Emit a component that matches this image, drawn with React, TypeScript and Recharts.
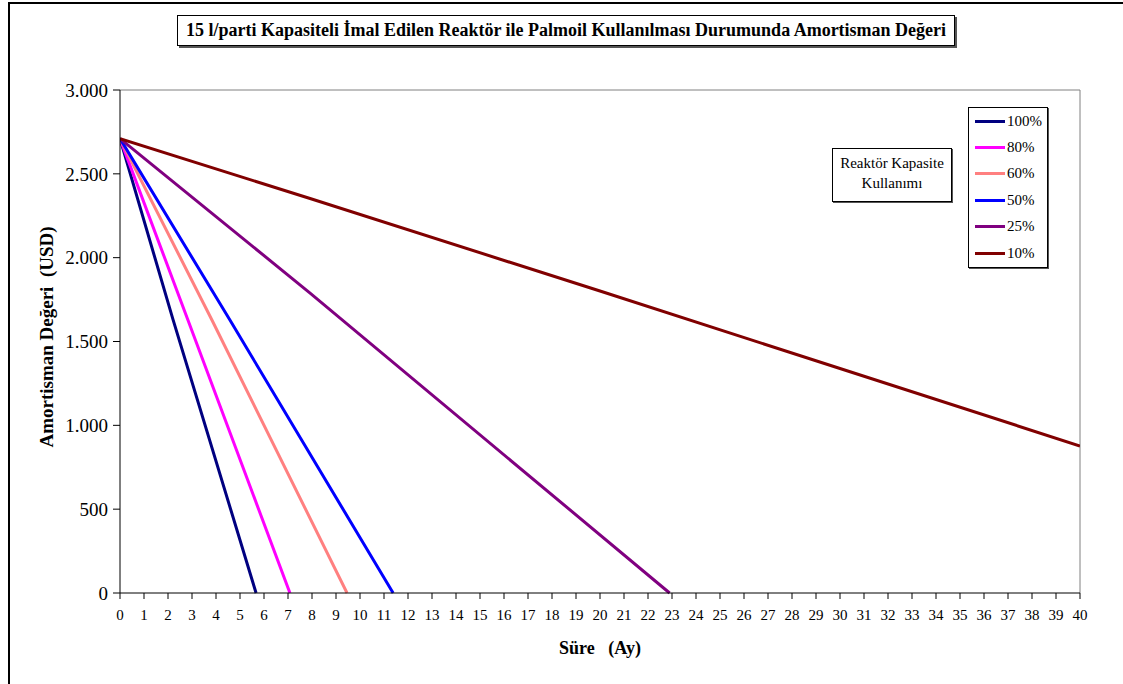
import React from 'react'
import { LineChart, Line, XAxis, YAxis, ReferenceLine } from 'recharts'

// months (Ay) and depreciation values (USD), per capacity usage
const months100 = [0, 2.21, 5.67]
const values100 = [2710, 1630, 0]
const months80 = [0, 2.83, 7.08]
const values80 = [2710, 1628, 0]
const months60 = [0, 3.83, 9.46]
const values60 = [2710, 1628, 0]
const months50 = [0, 4.58, 11.38]
const values50 = [2710, 1628, 0]
const months25 = [0, 7.92, 22.9]
const values25 = [2710, 1789, 0]
const months10 = [0, 7.92, 20, 30, 40]
const values10 = [2710, 2353, 1801, 1339, 877]

const seriesNames = ['100%', '80%', '60%', '50%', '25%', '10%']
const seriesColors = ['#000080', '#FF00FF', '#FF8080', '#0000FF', '#800080', '#800000']

const xTicks = Array.from({ length: 41 }, (_, i) => i)
const yTicks = [0, 500, 1000, 1500, 2000, 2500, 3000]

const toPoints = (months: number[], values: number[]) =>
  months.map((m, i) => ({ x: m, y: values[i] }))

const series = [
  toPoints(months100, values100),
  toPoints(months80, values80),
  toPoints(months60, values60),
  toPoints(months50, values50),
  toPoints(months25, values25),
  toPoints(months10, values10),
]

const serif = "'Times New Roman', 'Liberation Serif', 'DejaVu Serif', serif"

const formatY = (v: number) => (v === 0 ? '0' : v.toLocaleString('de-DE'))

export default function App() {
  return (
    <div style={{ position: 'absolute', left: 0, top: 0, width: 1123, height: 684, overflow: 'hidden', background: '#fff', fontFamily: serif }}>
      <div style={{ position: 'absolute', left: 8, top: 2, width: 1140, height: 720, border: '2px solid #000', boxSizing: 'border-box' }} />
      <div style={{ position: 'absolute', left: 0, top: 0 }}>
        <LineChart width={1123} height={684} margin={{ top: 90, right: 43, bottom: 61, left: 60 }} style={{ fontFamily: serif }}>
          <ReferenceLine y={3000} stroke="#808080" strokeWidth={1} />
          <ReferenceLine x={40} stroke="#808080" strokeWidth={1} />
          <XAxis
            type="number"
            dataKey="x"
            domain={[0, 40]}
            ticks={xTicks}
            interval={0}
            allowDataOverflow
            height={30}
            stroke="#000"
            tickSize={6}
            tickMargin={10}
            tick={{ fontSize: 15, fill: '#000', fontFamily: serif }}
          />
          <YAxis
            type="number"
            domain={[0, 3000]}
            ticks={yTicks}
            width={60}
            stroke="#000"
            tickSize={7}
            tickMargin={5}
            tickFormatter={formatY}
            tick={{ fontSize: 19, fill: '#000', fontFamily: serif }}
          />
          {series.map((data, i) => (
            <Line
              key={seriesNames[i]}
              data={data}
              dataKey="y"
              name={seriesNames[i]}
              type="linear"
              stroke={seriesColors[i]}
              strokeWidth={3}
              dot={false}
              isAnimationActive={false}
            />
          ))}
        </LineChart>
      </div>

      {/* title box */}
      <div
        style={{
          position: 'absolute', left: 177, top: 15, width: 778, height: 31, boxSizing: 'border-box',
          border: '1px solid #000', boxShadow: '2px 2px 0 #555', display: 'flex', alignItems: 'center',
          justifyContent: 'center', fontWeight: 'bold', fontSize: 18, whiteSpace: 'nowrap',
        }}
      >
        15 l/parti Kapasiteli İmal Edilen Reaktör ile Palmoil Kullanılması Durumunda Amortisman Değeri
      </div>

      {/* note box */}
      <div
        style={{
          position: 'absolute', left: 832, top: 148, width: 120, height: 54, boxSizing: 'border-box',
          border: '1px solid #000', boxShadow: '1px 1px 0 #555', textAlign: 'center', fontSize: 15,
          lineHeight: '20px', paddingTop: 4,
        }}
      >
        Reaktör Kapasite
        <br />
        Kullanımı
      </div>

      {/* legend */}
      <div
        style={{
          position: 'absolute', left: 968, top: 107, width: 80, height: 161, boxSizing: 'border-box',
          border: '1px solid #000', boxShadow: '1px 1px 0 #555',
        }}
      >
        {seriesNames.map((name, i) => (
          <div key={name} style={{ position: 'absolute', left: 6, top: 3 + i * 26.4, height: 20, display: 'flex', alignItems: 'center' }}>
            <span style={{ display: 'inline-block', width: 30, height: 3, background: seriesColors[i] }} />
            <span style={{ fontSize: 15, marginLeft: 2 }}>{name}</span>
          </div>
        ))}
      </div>

      {/* axis titles */}
      <div
        style={{
          position: 'absolute', left: 47, top: 337, transform: 'translate(-50%, -50%) rotate(-90deg)',
          fontWeight: 'bold', fontSize: 19, whiteSpace: 'pre',
        }}
      >
        {'Amortisman Değeri  (USD)'}
      </div>
      <div
        style={{
          position: 'absolute', left: 600, top: 648, transform: 'translate(-50%, -50%)',
          fontWeight: 'bold', fontSize: 18, whiteSpace: 'pre',
        }}
      >
        {'Süre   (Ay)'}
      </div>
    </div>
  )
}
